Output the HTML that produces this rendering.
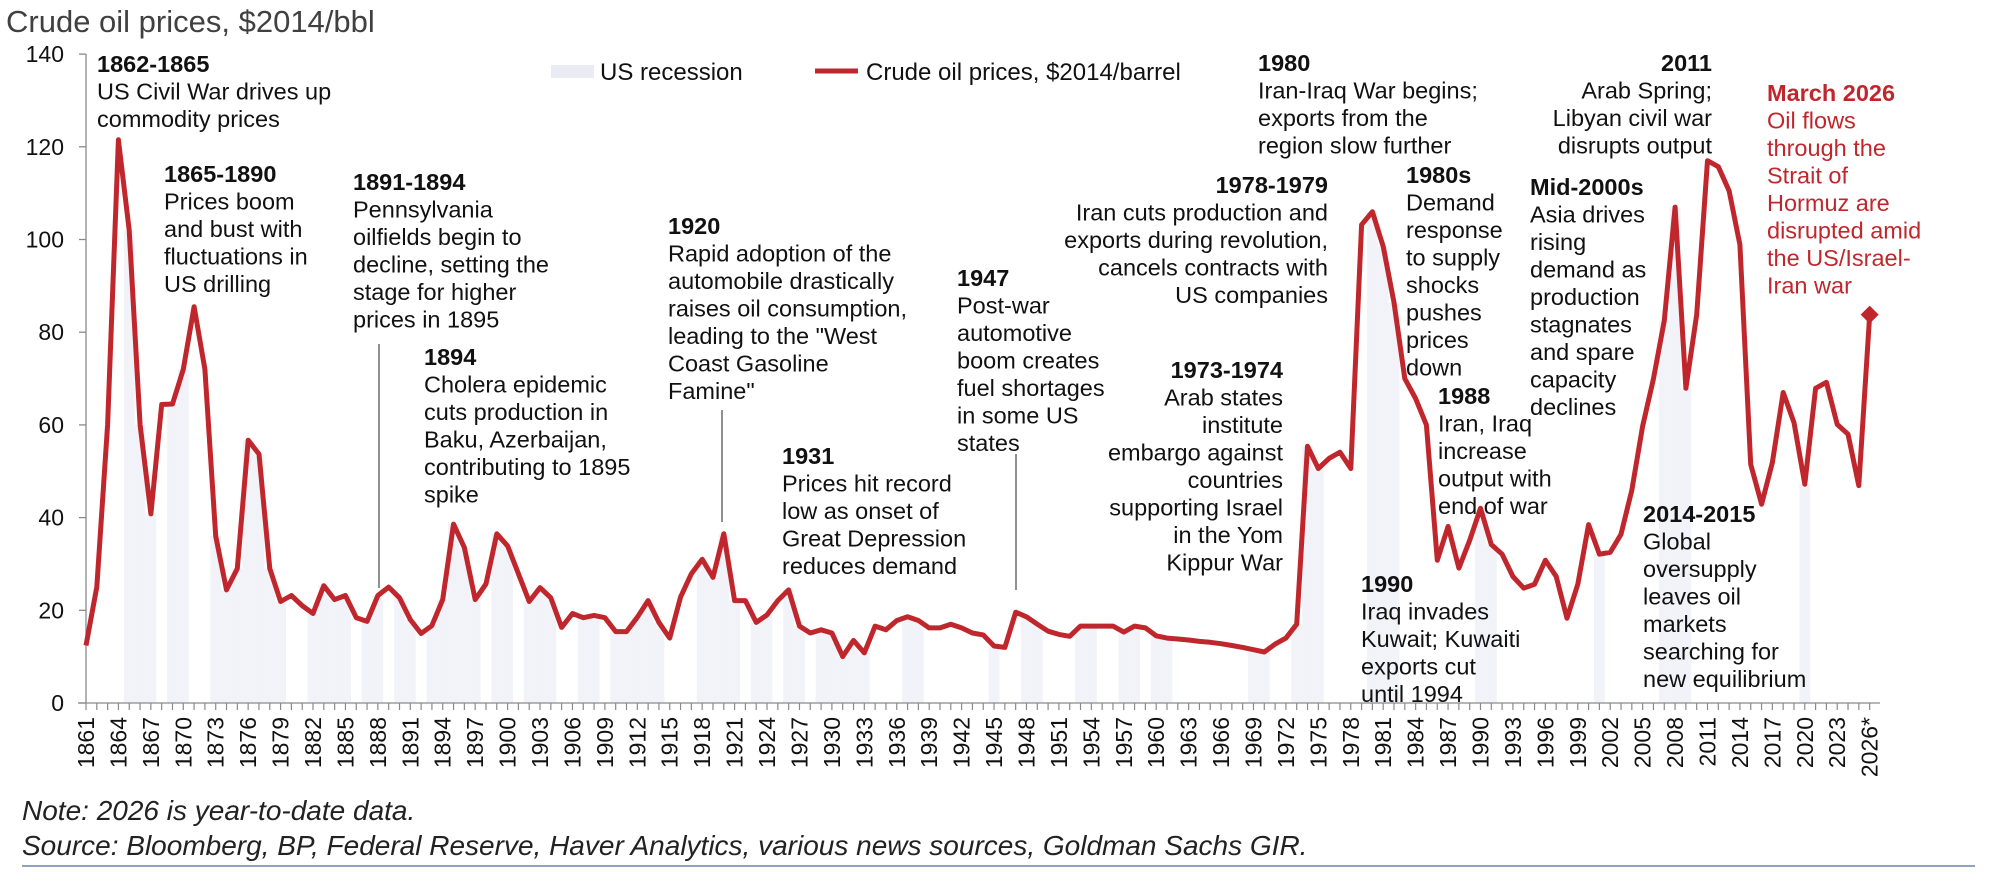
<!DOCTYPE html>
<html><head><meta charset="utf-8"><style>
html,body{margin:0;padding:0;background:#fff;}
svg{display:block;font-family:"Liberation Sans",Arial,sans-serif;}
.ann{font-size:23.5px;fill:#111;}
.hd{font-weight:bold;}
.red{fill:#c0272d;}
</style></head><body>
<svg id="chart" width="2000" height="881" viewBox="0 0 2000 881">
<text x="6" y="32" font-size="31" fill="#404040">Crude oil prices, $2014/bbl</text>
<g id="rec"></g>
<g id="axes"></g>
<g id="series"></g>
<g>
<rect x="551" y="65" width="43" height="13" fill="#e9ecf4"/>
<text x="600" y="80" font-size="24" fill="#111">US recession</text>
<line x1="815" y1="71" x2="858" y2="71" stroke="#c0272d" stroke-width="5"/>
<text x="866" y="80" font-size="24" fill="#111">Crude oil prices, $2014/barrel</text>
</g>
<g stroke="#555" stroke-width="1.3">
<line x1="379" y1="344" x2="379" y2="588"/>
<line x1="722" y1="410" x2="722" y2="522"/>
<line x1="1016" y1="454" x2="1016" y2="590"/>
</g>
<g class="ann">
<text x="97" y="72"><tspan class="hd">1862-1865</tspan><tspan x="97" dy="27.5">US Civil War drives up</tspan><tspan x="97" dy="27.5">commodity prices</tspan></text>
<text x="164" y="182"><tspan class="hd">1865-1890</tspan><tspan x="164" dy="27.5">Prices boom</tspan><tspan x="164" dy="27.5">and bust with</tspan><tspan x="164" dy="27.5">fluctuations in</tspan><tspan x="164" dy="27.5">US drilling</tspan></text>
<text x="353" y="190"><tspan class="hd">1891-1894</tspan><tspan x="353" dy="27.5">Pennsylvania</tspan><tspan x="353" dy="27.5">oilfields begin to</tspan><tspan x="353" dy="27.5">decline, setting the</tspan><tspan x="353" dy="27.5">stage for higher</tspan><tspan x="353" dy="27.5">prices in 1895</tspan></text>
<text x="424" y="365"><tspan class="hd">1894</tspan><tspan x="424" dy="27.5">Cholera epidemic</tspan><tspan x="424" dy="27.5">cuts production in</tspan><tspan x="424" dy="27.5">Baku, Azerbaijan,</tspan><tspan x="424" dy="27.5">contributing to 1895</tspan><tspan x="424" dy="27.5">spike</tspan></text>
<text x="668" y="234"><tspan class="hd">1920</tspan><tspan x="668" dy="27.5">Rapid adoption of the</tspan><tspan x="668" dy="27.5">automobile drastically</tspan><tspan x="668" dy="27.5">raises oil consumption,</tspan><tspan x="668" dy="27.5">leading to the "West</tspan><tspan x="668" dy="27.5">Coast Gasoline</tspan><tspan x="668" dy="27.5">Famine"</tspan></text>
<text x="782" y="464"><tspan class="hd">1931</tspan><tspan x="782" dy="27.5">Prices hit record</tspan><tspan x="782" dy="27.5">low as onset of</tspan><tspan x="782" dy="27.5">Great Depression</tspan><tspan x="782" dy="27.5">reduces demand</tspan></text>
<text x="957" y="286"><tspan class="hd">1947</tspan><tspan x="957" dy="27.5">Post-war</tspan><tspan x="957" dy="27.5">automotive</tspan><tspan x="957" dy="27.5">boom creates</tspan><tspan x="957" dy="27.5">fuel shortages</tspan><tspan x="957" dy="27.5">in some US</tspan><tspan x="957" dy="27.5">states</tspan></text>
<text x="1283" y="378" text-anchor="end"><tspan class="hd">1973-1974</tspan><tspan x="1283" dy="27.5">Arab states</tspan><tspan x="1283" dy="27.5">institute</tspan><tspan x="1283" dy="27.5">embargo against</tspan><tspan x="1283" dy="27.5">countries</tspan><tspan x="1283" dy="27.5">supporting Israel</tspan><tspan x="1283" dy="27.5">in the Yom</tspan><tspan x="1283" dy="27.5">Kippur War</tspan></text>
<text x="1328" y="193" text-anchor="end"><tspan class="hd">1978-1979</tspan><tspan x="1328" dy="27.5">Iran cuts production and</tspan><tspan x="1328" dy="27.5">exports during revolution,</tspan><tspan x="1328" dy="27.5">cancels contracts with</tspan><tspan x="1328" dy="27.5">US companies</tspan></text>
<text x="1258" y="71"><tspan class="hd">1980</tspan><tspan x="1258" dy="27.5">Iran-Iraq War begins;</tspan><tspan x="1258" dy="27.5">exports from the</tspan><tspan x="1258" dy="27.5">region slow further</tspan></text>
<text x="1406" y="183"><tspan class="hd">1980s</tspan><tspan x="1406" dy="27.5">Demand</tspan><tspan x="1406" dy="27.5">response</tspan><tspan x="1406" dy="27.5">to supply</tspan><tspan x="1406" dy="27.5">shocks</tspan><tspan x="1406" dy="27.5">pushes</tspan><tspan x="1406" dy="27.5">prices</tspan><tspan x="1406" dy="27.5">down</tspan></text>
<text x="1438" y="404"><tspan class="hd">1988</tspan><tspan x="1438" dy="27.5">Iran, Iraq</tspan><tspan x="1438" dy="27.5">increase</tspan><tspan x="1438" dy="27.5">output with</tspan><tspan x="1438" dy="27.5">end of war</tspan></text>
<text x="1361" y="592"><tspan class="hd">1990</tspan><tspan x="1361" dy="27.5">Iraq invades</tspan><tspan x="1361" dy="27.5">Kuwait; Kuwaiti</tspan><tspan x="1361" dy="27.5">exports cut</tspan><tspan x="1361" dy="27.5">until 1994</tspan></text>
<text x="1530" y="195"><tspan class="hd">Mid-2000s</tspan><tspan x="1530" dy="27.5">Asia drives</tspan><tspan x="1530" dy="27.5">rising</tspan><tspan x="1530" dy="27.5">demand as</tspan><tspan x="1530" dy="27.5">production</tspan><tspan x="1530" dy="27.5">stagnates</tspan><tspan x="1530" dy="27.5">and spare</tspan><tspan x="1530" dy="27.5">capacity</tspan><tspan x="1530" dy="27.5">declines</tspan></text>
<text x="1712" y="71" text-anchor="end"><tspan class="hd">2011</tspan><tspan x="1712" dy="27.5">Arab Spring;</tspan><tspan x="1712" dy="27.5">Libyan civil war</tspan><tspan x="1712" dy="27.5">disrupts output</tspan></text>
<text x="1643" y="522"><tspan class="hd">2014-2015</tspan><tspan x="1643" dy="27.5">Global</tspan><tspan x="1643" dy="27.5">oversupply</tspan><tspan x="1643" dy="27.5">leaves oil</tspan><tspan x="1643" dy="27.5">markets</tspan><tspan x="1643" dy="27.5">searching for</tspan><tspan x="1643" dy="27.5">new equilibrium</tspan></text>
<text x="1767" y="101" class="red"><tspan class="hd">March 2026</tspan><tspan x="1767" dy="27.5">Oil flows</tspan><tspan x="1767" dy="27.5">through the</tspan><tspan x="1767" dy="27.5">Strait of</tspan><tspan x="1767" dy="27.5">Hormuz are</tspan><tspan x="1767" dy="27.5">disrupted amid</tspan><tspan x="1767" dy="27.5">the US/Israel-</tspan><tspan x="1767" dy="27.5">Iran war</tspan></text>
</g>
<text x="22" y="820" font-size="28" font-style="italic" fill="#222">Note: 2026 is year-to-date data.</text>
<text x="22" y="855" font-size="28" font-style="italic" fill="#222">Source: Bloomberg, BP, Federal Reserve, Haver Analytics, various news sources, Goldman Sachs GIR.</text>
<line x1="22" y1="866" x2="1975" y2="866" stroke="#8ea3bd" stroke-width="2"/>
</svg>
<script>
const startYear = 1861;
const prices = [12.4,25,60,121.5,102,60,40.8,64.4,64.5,72,
85.5,72,36,24.4,29,56.7,53.7,29,21.9,23.2,
21,19.3,25.3,22.3,23.2,18.4,17.6,23.2,25,22.7,
18,15,16.7,22.3,38.6,33.5,22.3,25.7,36.5,33.9,
27.9,21.9,24.9,22.7,16.3,19.3,18.4,18.9,18.4,15.4,
15.4,18.5,22.1,17.4,14,22.9,27.9,31.0,27.1,36.5,
22.1,22.1,17.4,19,22.1,24.4,16.6,15.1,15.8,15.1,
10,13.5,10.8,16.6,15.8,17.8,18.6,17.8,16.2,16.2,
17,16.2,15.1,14.7,12.3,12,19.6,18.6,17,15.5,
14.8,14.4,16.6,16.6,16.6,16.6,15.3,16.6,16.2,14.5,
14,13.8,13.6,13.3,13.1,12.8,12.4,12,11.5,11,
12.7,14,17,55.4,50.6,52.8,54.1,50.6,103.2,106,
98.5,86.4,70,65.7,60,30.8,38.1,29.1,35.1,42,
34.2,32.1,27.3,24.8,25.6,30.8,27.3,18.3,25.6,38.5,
32.1,32.5,36.4,45.9,59.7,70,82.5,107,67.9,83.8,
117,115.7,110.5,98.9,51.5,42.9,51.9,67,60.5,47.2,
67.9,69.2,60.1,58,46.9,83.8];
const recessionYears = [1865,1866,1867,1869,1870,1873,1874,1875,1876,1877,1878,1879,1882,1883,1884,1885,1887,1888,1890,1891,1893,1894,1895,1896,1897,1899,1900,1902,1903,1904,1907,1908,1910,1911,1912,1913,1914,1918,1919,1920,1921,1923,1924,1926,1927,1929,1930,1931,1932,1933,1937,1938,1945,1948,1949,1953,1954,1957,1958,1960,1961,1969,1970,1973,1974,1975,1980,1981,1982,1990,1991,2001,2007,2008,2009,2020];
const yTicks = [0,20,40,60,80,100,120,140];
const xLabelStep = 3;

const NS = "http://www.w3.org/2000/svg";
const X0 = 86, DX = 10.81, Y0 = 703, YPX = 4.635;
function xs(year){ return X0 + (year - startYear) * DX; }
function ys(v){ return Y0 - v * YPX; }
function mk(tag, attrs, parent){ const e = document.createElementNS(NS, tag); for (const k in attrs) e.setAttribute(k, attrs[k]); parent.appendChild(e); return e; }

const rec = document.getElementById('rec');
recessionYears.forEach(function(yr){
  const v = prices[yr - startYear];
  const r = mk('rect', {x: xs(yr) - DX/2, y: ys(v), width: DX, height: Y0 - ys(v), fill: '#f1f3f8'}, rec);
  
  
});

const axes = document.getElementById('axes');
const yl = mk('line', {x1: X0, y1: 54, x2: X0, y2: Y0, stroke: '#8a8a8a', 'stroke-width': 1.3}, axes);


const xl = mk('line', {x1: 78, y1: Y0, x2: 1880, y2: Y0, stroke: '#8a8a8a', 'stroke-width': 1.3}, axes);


yTicks.forEach(function(t){
  const tk = mk('line', {x1: 79, y1: ys(t), x2: X0, y2: ys(t), stroke: '#8a8a8a', 'stroke-width': 1.3}, axes);
  
  
  const lb = mk('text', {x: 64, y: ys(t) + 8, 'text-anchor': 'end', 'font-size': 23, fill: '#111'}, axes);
  lb.textContent = t;
  
  
});
for (let i = 0; i < prices.length; i++) {
  const yr = startYear + i;
  const tk = mk('line', {x1: xs(yr), y1: Y0, x2: xs(yr), y2: Y0 + 7, stroke: '#8a8a8a', 'stroke-width': 1.2}, axes);
  
  
  if (i % xLabelStep === 0) {
    const lb = mk('text', {x: 0, y: 0, 'text-anchor': 'end', 'font-size': 23, fill: '#111', transform: 'translate(' + (xs(yr) + 8) + ',' + (Y0 + 14) + ') rotate(-90)'}, axes);
    lb.textContent = yr === 2026 ? '2026*' : String(yr);
    
    
  }
}

const series = document.getElementById('series');
const pts = prices.map(function(v, i){ return xs(startYear + i).toFixed(1) + ',' + ys(v).toFixed(1); }).join(' ');
const pl = mk('polyline', {points: pts, fill: 'none', stroke: '#c0272d', 'stroke-width': 5, 'stroke-linejoin': 'round'}, series);


const lastI = prices.length - 1;
const cx = xs(startYear + lastI), cy = ys(prices[lastI]);
const dm = mk('polygon', {points: (cx) + ',' + (cy - 9) + ' ' + (cx + 9) + ',' + cy + ' ' + cx + ',' + (cy + 9) + ' ' + (cx - 9) + ',' + cy, fill: '#c0272d'}, series);


</script>
</body></html>
